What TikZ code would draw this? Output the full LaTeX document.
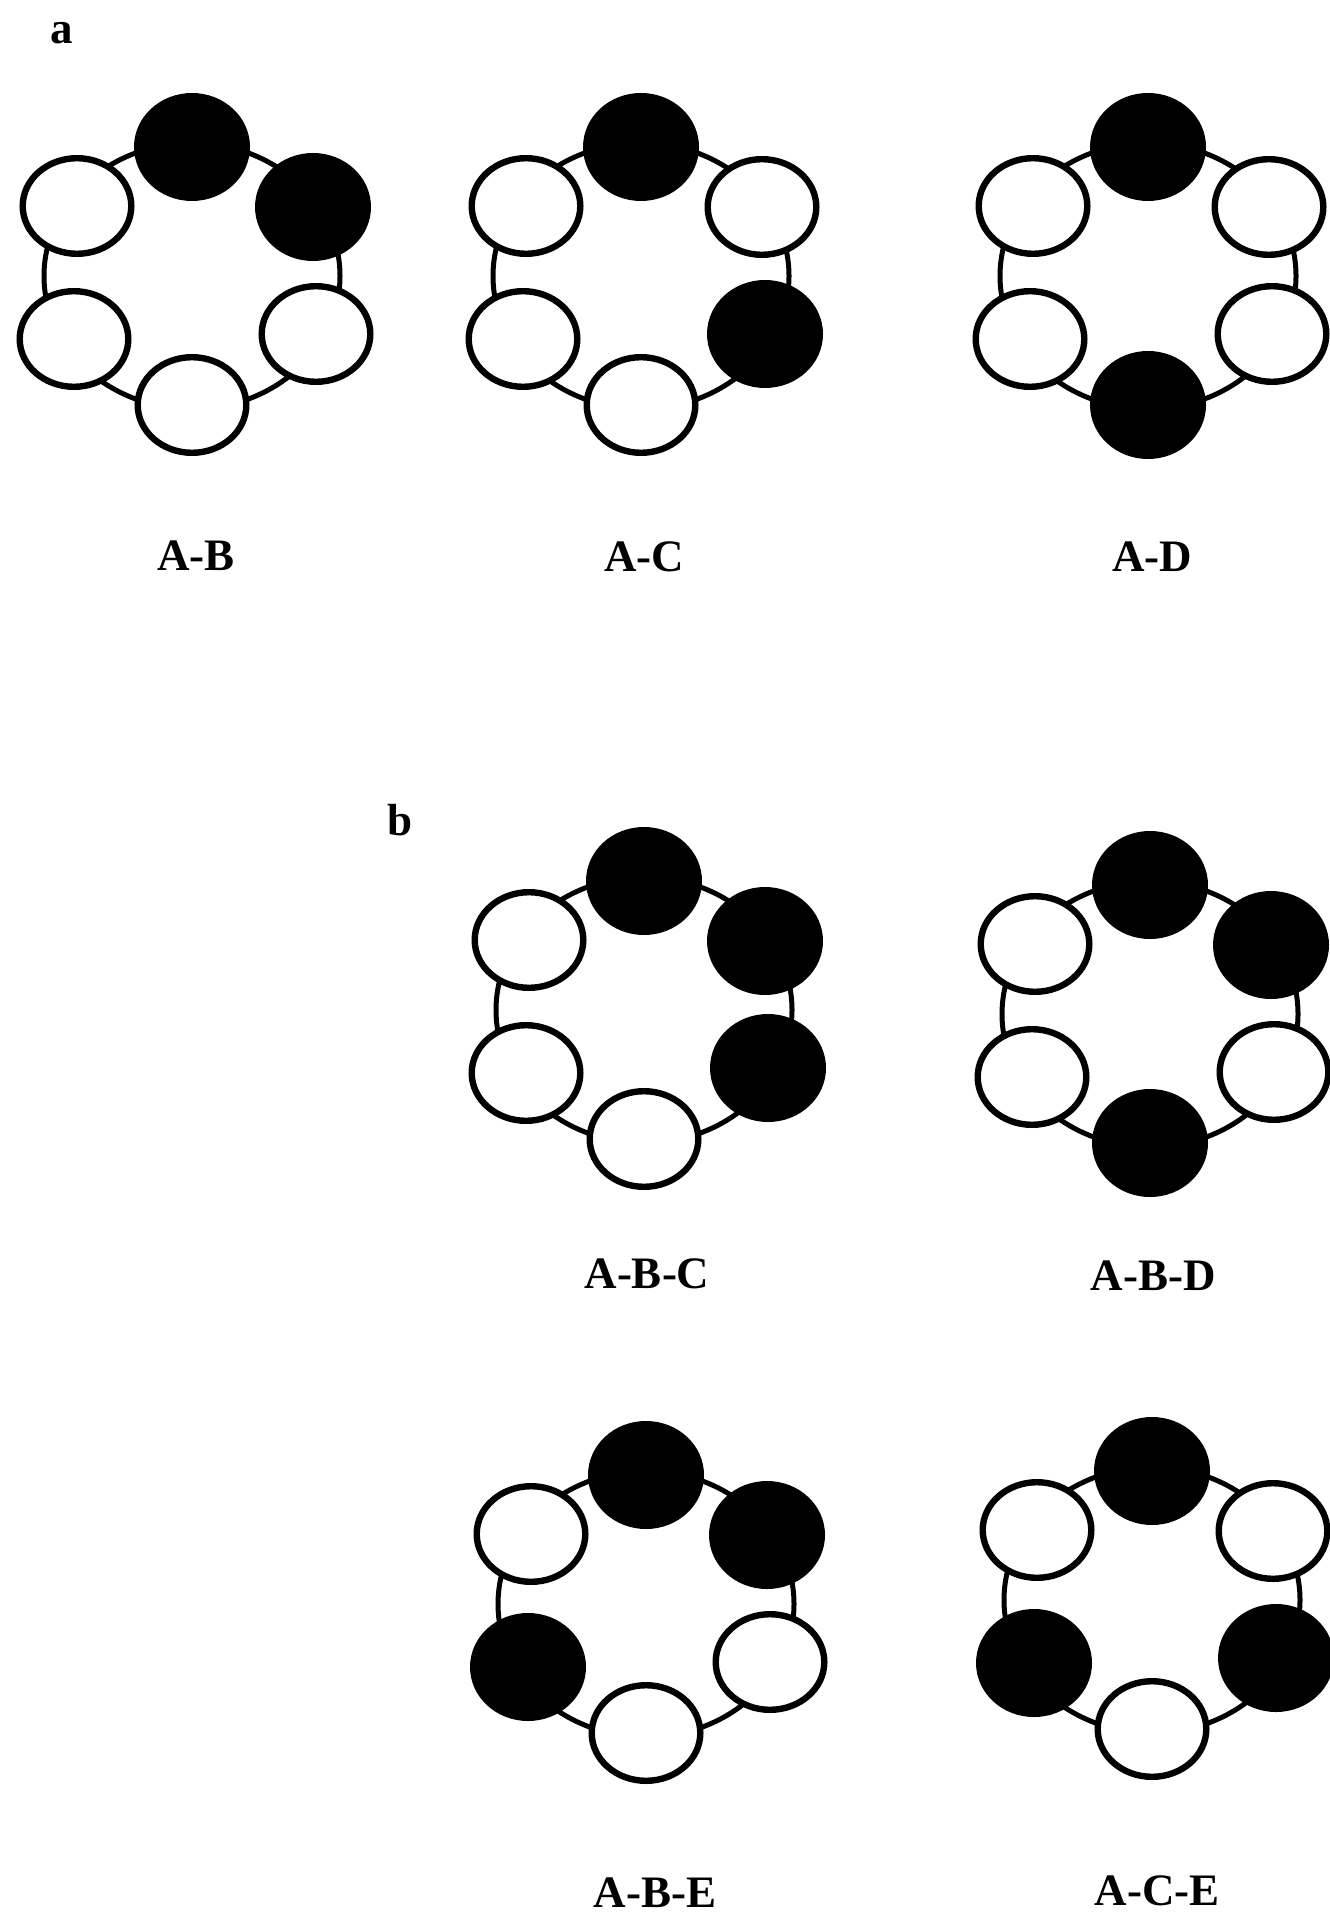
\documentclass[tikz,border=0pt]{standalone}
\usepackage{fontspec}
\setmainfont{Liberation Serif}
\usetikzlibrary{shapes.geometric}

\tikzset{
  bead/.style={ellipse, inner sep=0pt, outer sep=0pt},
  openbead/.style={bead, draw=black, line width=3.2pt, fill=white,
                   minimum width=54.3pt, minimum height=47.8pt},
  fullbead/.style={bead, fill=black, minimum width=58pt, minimum height=54pt},
  ringline/.style={draw=black, line width=2.5pt},
  tag/.style={font=\fontsize{22.5}{27}\selectfont\bfseries, inner sep=0pt},
}

% six-membered ring: name, centre x, centre y, then the styles of the beads
% top, upper right, lower right, bottom, lower left, upper left
\newcommand\hexring[9]{%
  \coordinate (#1) at (#2,#3);
  \draw[ringline] (#1) ellipse [x radius=74pt, y radius=66.5pt];
  \node[#4] (#1-t)  at ([shift={(0,-129)}]#1) {};
  \node[#5] (#1-ur) at ([shift={(121,-69)}]#1) {};
  \node[#6] (#1-lr) at ([shift={(124,58)}]#1) {};
  \node[#7] (#1-b)  at ([shift={(0,129)}]#1) {};
  \node[#8] (#1-ll) at ([shift={(-118,63)}]#1) {};
  \node[#9] (#1-ul) at ([shift={(-115,-70)}]#1) {};
}

\begin{document}
\begin{tikzpicture}[x=0.5pt, y=-0.5pt]
  \fill[white] (0,0) rectangle (1329,1914);
  \useasboundingbox (0,0) rectangle (1329,1914);

  % panel a: pairs
  \node[tag] (pa) at (62,33) {a};
  \hexring{ab}{192}{276}{fullbead}{fullbead}{openbead}{openbead}{openbead}{openbead}
  \hexring{ac}{641}{276}{fullbead}{openbead}{fullbead}{openbead}{openbead}{openbead}
  \hexring{ad}{1148}{276}{fullbead}{openbead}{openbead}{fullbead}{openbead}{openbead}
  \node[tag] (lab) at (196,556) {A-B};
  \node[tag] (lac) at (644,557) {A-C};
  \node[tag] (lad) at (1152,557) {A-D};

  % panel b: triples
  \node[tag] (pb) at (400,820) {b};
  \hexring{abc}{644}{1010}{fullbead}{fullbead}{fullbead}{openbead}{openbead}{openbead}
  \hexring{abd}{1150}{1014}{fullbead}{fullbead}{openbead}{fullbead}{openbead}{openbead}
  \hexring{abe}{646}{1604}{fullbead}{fullbead}{openbead}{openbead}{fullbead}{openbead}
  \hexring{ace}{1152}{1600}{fullbead}{openbead}{fullbead}{openbead}{fullbead}{openbead}
  \node[tag] (labc) at (647,1274) {A-B-C};
  \node[tag] (labd) at (1153,1276) {A-B-D};
  \node[tag] (labe) at (655,1893) {A-B-E};
  \node[tag] (lace) at (1157,1891) {A-C-E};
\end{tikzpicture}
\end{document}
